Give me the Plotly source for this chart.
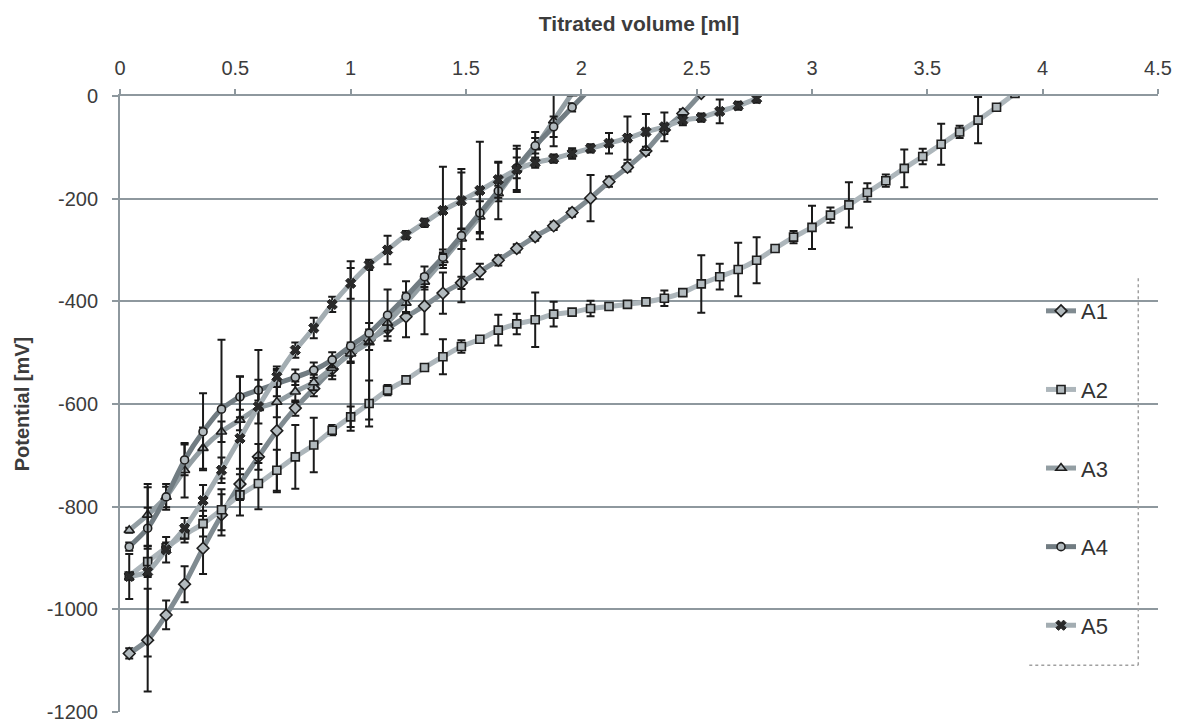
import plotly.graph_objects as go

# ---- data ----
x_a1 = [0.04, 0.12, 0.20, 0.28, 0.36, 0.44, 0.52, 0.60, 0.68, 0.76, 0.84, 0.92, 1.00, 1.08, 1.16, 1.24,
        1.32, 1.40, 1.48, 1.56, 1.64, 1.72, 1.80, 1.88, 1.96, 2.04, 2.12, 2.20, 2.28, 2.36, 2.44, 2.52]
y_a1 = [-1086, -1060, -1011, -951, -881, -816, -756, -703, -652, -608, -570, -532, -500, -475, -453, -430,
        -409, -384, -364, -342, -320, -297, -274, -253, -227, -199, -167, -139, -107, -66, -34, 5]
e_a1 = [10, 100, 28, 35, 50, 40, 30, 25, 120, 15, 15, 20, 20, 20, 15, 40,
        55, 40, 12, 15, 10, 8, 8, 8, 8, 45, 10, 8, 8, 8, 8, 0]

x_a2 = [0.04, 0.12, 0.20, 0.28, 0.36, 0.44, 0.52, 0.60, 0.68, 0.76, 0.84, 0.92, 1.00, 1.08, 1.16, 1.24,
        1.32, 1.40, 1.48, 1.56, 1.64, 1.72, 1.80, 1.88, 1.96, 2.04, 2.12, 2.20, 2.28, 2.36, 2.44, 2.52,
        2.60, 2.68, 2.76, 2.84, 2.92, 3.00, 3.08, 3.16, 3.24, 3.32, 3.40, 3.48, 3.56, 3.64, 3.72, 3.80, 3.88]
y_a2 = [-935, -907, -880, -855, -833, -806, -777, -755, -729, -703, -680, -651, -625, -599, -573, -553,
        -529, -508, -488, -474, -456, -444, -436, -425, -421, -414, -410, -406, -401, -394, -383, -366,
        -352, -338, -320, -297, -275, -256, -232, -212, -188, -165, -141, -118, -94, -70, -47, -22, 5]
e_a2 = [5, 30, 10, 15, 25, 40, 40, 50, 40, 62, 53, 10, 20, 45, 10, 5,
        5, 34, 12, 5, 30, 20, 53, 24, 5, 15, 5, 5, 5, 15, 5, 56,
        25, 52, 45, 5, 12, 42, 15, 44, 18, 12, 37, 15, 40, 12, 45, 0, 0]

x_a3 = [0.04, 0.12, 0.20, 0.28, 0.36, 0.44, 0.52, 0.60, 0.68, 0.76, 0.84, 0.92, 1.00, 1.08, 1.16, 1.24,
        1.32, 1.40, 1.48, 1.56, 1.64, 1.72, 1.80, 1.88, 1.96]
y_a3 = [-846, -816, -781, -729, -686, -654, -631, -608, -596, -576, -558, -530, -502, -480, -442, -403,
        -362, -320, -278, -235, -190, -142, -100, -48, 5]
e_a3 = [5, 60, 25, 53, 40, 20, 20, 30, 30, 20, 15, 15, 15, 150, 15, 20,
        15, 15, 20, 30, 15, 45, 30, 50, 0]

x_a4 = [0.04, 0.12, 0.20, 0.28, 0.36, 0.44, 0.52, 0.60, 0.68, 0.76, 0.84, 0.92, 1.00, 1.08, 1.16, 1.24,
        1.32, 1.40, 1.48, 1.56, 1.64, 1.72, 1.80, 1.88, 1.96, 2.04]
y_a4 = [-878, -842, -781, -709, -654, -610, -586, -573, -560, -548, -534, -514, -487, -462, -427, -391,
        -352, -314, -272, -228, -185, -140, -97, -60, -22, 15]
e_a4 = [8, 40, 20, 30, 75, 135, 40, 20, 25, 15, 15, 15, 165, 20, 50, 30,
        20, 15, 130, 40, 55, 20, 15, 20, 8, 0]

x_a5 = [0.04, 0.12, 0.20, 0.28, 0.36, 0.44, 0.52, 0.60, 0.68, 0.76, 0.84, 0.92, 1.00, 1.08, 1.16, 1.24,
        1.32, 1.40, 1.48, 1.56, 1.64, 1.72, 1.80, 1.88, 1.96, 2.04, 2.12, 2.20, 2.28, 2.36, 2.44, 2.52,
        2.60, 2.68, 2.76]
y_a5 = [-936, -927, -884, -842, -788, -729, -667, -605, -547, -495, -452, -406, -365, -329, -300, -271,
        -247, -223, -204, -184, -163, -143, -130, -122, -112, -102, -92, -82, -70, -60, -47, -42,
        -30, -19, -5]
e_a5 = [44, 165, 25, 20, 30, 25, 120, 110, 20, 15, 20, 15, 30, 10, 28, 8,
        8, 85, 55, 95, 35, 40, 10, 8, 10, 8, 20, 42, 35, 28, 10, 8,
        23, 8, 8]

names = ["A1", "A2", "A3", "A4", "A5"]
xs = [x_a1, x_a2, x_a3, x_a4, x_a5]
ys = [y_a1, y_a2, y_a3, y_a4, y_a5]
es = [e_a1, e_a2, e_a3, e_a4, e_a5]

x_ticks = [0, 0.5, 1, 1.5, 2, 2.5, 3, 3.5, 4, 4.5]
x_ticklabels = ["0", "0.5", "1", "1.5", "2", "2.5", "3", "3.5", "4", "4.5"]
y_ticks = [0, -200, -400, -600, -800, -1000, -1200]
y_ticklabels = ["0", "-200", "-400", "-600", "-800", "-1000", "-1200"]

# ---- styling ----
line_colors = ["#808b91", "#adb6bb", "#939ea3", "#717c82", "#a3adb2"]
symbols = ["diamond", "square", "triangle-up", "circle", "x"]
msizes = [9, 8, 9, 8, 9]
grid_col = "#8e989e"
FONT = "Liberation Sans, Arial, sans-serif"
TXT = "#3c3c3c"

fig = go.Figure()
for i in range(5):
    is_x = symbols[i] == "x"
    fig.add_trace(go.Scatter(
        x=xs[i], y=ys[i], name=names[i], legendgroup=names[i],
        mode="lines+markers",
        line=dict(color=line_colors[i], width=5, shape="spline", smoothing=0.6),
        marker=dict(symbol=symbols[i], size=msizes[i],
                    color="#2a2a2a" if is_x else "#b2babe",
                    line=dict(color="#1e1e1e", width=1.0 if is_x else 1.6)),
        error_y=dict(type="data", array=es[i], visible=True,
                     color="#1a1a1a", thickness=2, width=4),
    ))

# legend background box (covers grid lines) with dotted right/bottom edge
bx0, bx1, by0, by1 = 0.867, 0.990, 0.066, 0.726
dx1, dy0, dy1, dx0 = 0.981, 0.076, 0.706, 0.876
fig.add_shape(type="rect", xref="paper", yref="paper", x0=bx0, x1=bx1, y0=by0, y1=by1,
              fillcolor="white", line=dict(width=0), layer="between")
fig.add_shape(type="line", xref="paper", yref="paper", x0=dx1, x1=dx1, y0=dy0, y1=dy1,
              line=dict(color="#a0a0a0", width=1.5, dash="dot"))
fig.add_shape(type="line", xref="paper", yref="paper", x0=dx0, x1=dx1, y0=dy0, y1=dy0,
              line=dict(color="#a0a0a0", width=1.5, dash="dot"))

# the page body adds an 8px margin, so the figure is sized to compensate
fig.update_layout(
    width=1185, height=718,
    margin=dict(l=112, r=35, t=88, b=14, autoexpand=False),
    paper_bgcolor="white", plot_bgcolor="white",
    font=dict(family=FONT, size=20, color=TXT),
    showlegend=True,
    legend=dict(x=0.8873, y=0.685, xanchor="left", yanchor="top",
                bgcolor="rgba(0,0,0,0)", borderwidth=0,
                traceorder="grouped", tracegroupgap=47,
                font=dict(family=FONT, size=22, color="#333333"),
                itemwidth=30),
    xaxis=dict(side="top", range=[0, 4.5], tickvals=x_ticks, ticktext=x_ticklabels,
               automargin=False,
               showgrid=False, zeroline=False,
               showline=True, linecolor=grid_col, linewidth=2,
               ticks="outside", ticklen=5, tickwidth=2, tickcolor=grid_col,
               ticklabelstandoff=6,
               tickfont=dict(family=FONT, size=20, color=TXT),
               title=dict(text="<b>Titrated volume [ml]</b>", standoff=20,
                          font=dict(family=FONT, size=21, color=TXT))),
    yaxis=dict(range=[-1200, 0], tickvals=y_ticks, ticktext=y_ticklabels,
               automargin=False,
               showgrid=True, gridcolor=grid_col, gridwidth=2, zeroline=False,
               showline=True, linecolor=grid_col, linewidth=2,
               ticks="outside", ticklen=6, tickwidth=2, tickcolor=grid_col,
               ticklabelstandoff=10,
               tickfont=dict(family=FONT, size=20, color=TXT),
               title=dict(text="<b>Potential [mV]</b>", standoff=12,
                          font=dict(family=FONT, size=20, color=TXT))),
)

fig.write_html("out.html")
